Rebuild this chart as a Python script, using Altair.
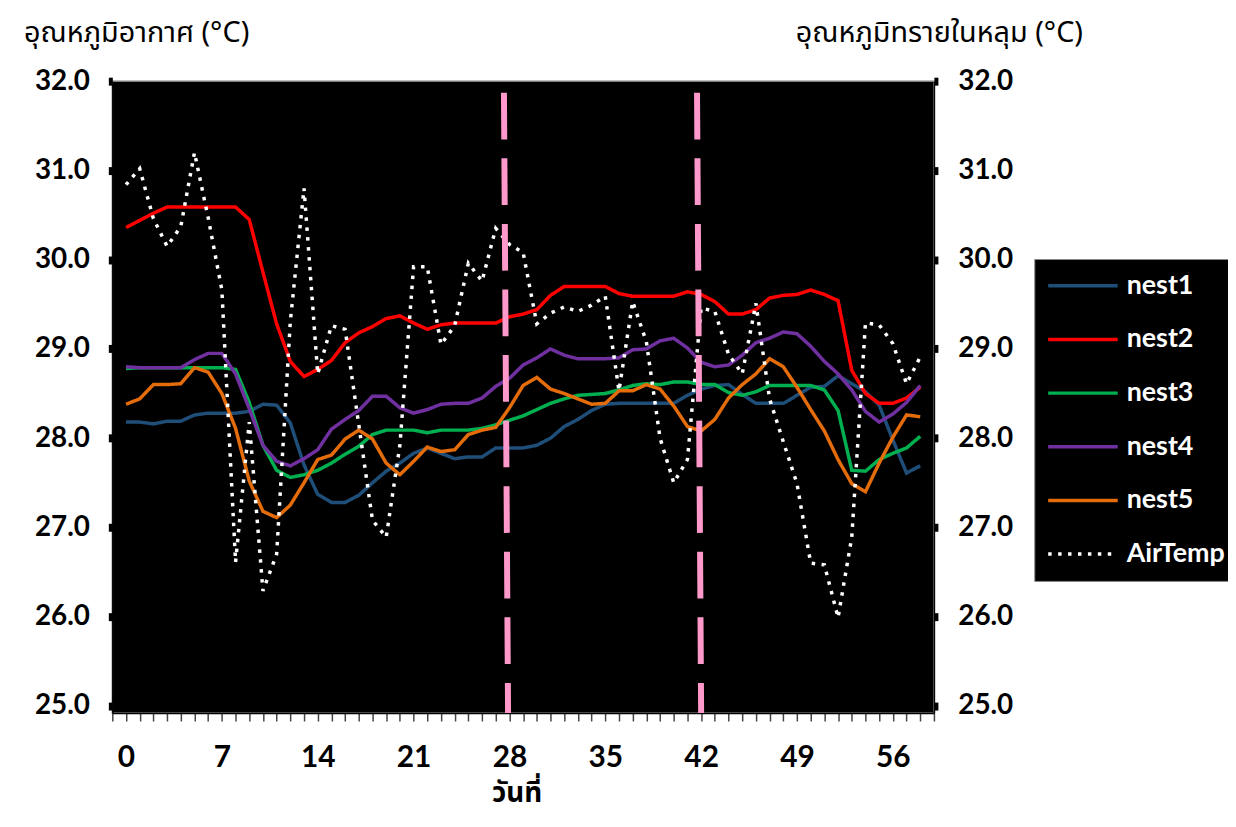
import altair as alt
import pandas as pd

days = list(range(59))

nest1 = [28.18, 28.18, 28.16, 28.19, 28.19, 28.26, 28.28, 28.28, 28.28, 28.30,
         28.38, 28.37, 28.17, 27.70, 27.37, 27.28, 27.28, 27.36, 27.50, 27.63,
         27.72, 27.83, 27.89, 27.83, 27.77, 27.79, 27.79, 27.89, 27.89, 27.89,
         27.92, 28.00, 28.13, 28.21, 28.31, 28.38, 28.39, 28.39, 28.39, 28.39,
         28.39, 28.48, 28.55, 28.59, 28.60, 28.49, 28.39, 28.39, 28.39, 28.48,
         28.57, 28.58, 28.70, 28.61, 28.52, 28.37, 27.98, 27.61, 27.69]
nest2 = [30.36, 30.44, 30.52, 30.59, 30.59, 30.59, 30.59, 30.59, 30.59, 30.45,
         29.86, 29.28, 28.86, 28.69, 28.77, 28.87, 29.07, 29.18, 29.25, 29.34,
         29.37, 29.29, 29.22, 29.27, 29.29, 29.29, 29.29, 29.29, 29.36, 29.39,
         29.44, 29.60, 29.70, 29.70, 29.70, 29.70, 29.62, 29.59, 29.59, 29.59,
         29.59, 29.64, 29.61, 29.53, 29.39, 29.39, 29.44, 29.57, 29.60, 29.61,
         29.66, 29.61, 29.54, 28.76, 28.50, 28.39, 28.39, 28.45, 28.57]
nest3 = [28.78, 28.79, 28.79, 28.79, 28.79, 28.79, 28.79, 28.79, 28.77, 28.40,
         27.92, 27.64, 27.56, 27.59, 27.64, 27.72, 27.82, 27.91, 28.04, 28.09,
         28.09, 28.09, 28.06, 28.09, 28.09, 28.09, 28.11, 28.15, 28.20, 28.25,
         28.32, 28.39, 28.44, 28.48, 28.49, 28.50, 28.54, 28.59, 28.61, 28.60,
         28.63, 28.63, 28.60, 28.60, 28.51, 28.48, 28.52, 28.59, 28.59, 28.59,
         28.59, 28.54, 28.31, 27.64, 27.63, 27.76, 27.83, 27.89, 28.02]
nest4 = [28.80, 28.79, 28.79, 28.79, 28.79, 28.88, 28.95, 28.95, 28.72, 28.33,
         27.92, 27.74, 27.69, 27.77, 27.87, 28.10, 28.21, 28.31, 28.47, 28.47,
         28.34, 28.28, 28.32, 28.38, 28.39, 28.39, 28.45, 28.58, 28.67, 28.82,
         28.90, 29.00, 28.93, 28.89, 28.89, 28.89, 28.90, 28.99, 29.00, 29.09,
         29.12, 29.01, 28.85, 28.80, 28.82, 28.93, 29.07, 29.12, 29.19, 29.17,
         29.03, 28.86, 28.72, 28.54, 28.30, 28.18, 28.27, 28.40, 28.59]
nest5 = [28.38, 28.44, 28.60, 28.60, 28.61, 28.79, 28.74, 28.50, 28.11, 27.52,
         27.18, 27.11, 27.25, 27.50, 27.76, 27.81, 27.99, 28.09, 27.99, 27.72,
         27.59, 27.74, 27.90, 27.85, 27.87, 28.04, 28.09, 28.12, 28.34, 28.59,
         28.68, 28.55, 28.50, 28.44, 28.38, 28.39, 28.53, 28.53, 28.60, 28.55,
         28.36, 28.13, 28.08, 28.21, 28.45, 28.60, 28.72, 28.89, 28.80, 28.57,
         28.32, 28.08, 27.76, 27.49, 27.40, 27.72, 28.01, 28.26, 28.24]
air_temp = [30.84, 31.02, 30.46, 30.15, 30.37, 31.20, 30.47, 29.66, 26.61, 28.18,
            26.29, 26.70, 29.31, 30.80, 28.72, 29.26, 29.22, 28.15, 27.08, 26.89,
            27.92, 29.92, 29.92, 29.05, 29.26, 29.96, 29.76, 30.35, 30.17, 30.08,
            29.28, 29.40, 29.47, 29.42, 29.49, 29.59, 28.53, 29.53, 29.08, 28.00,
            27.50, 27.76, 29.46, 29.42, 28.94, 28.72, 29.51, 28.44, 27.96, 27.49,
            26.60, 26.58, 25.99, 26.89, 29.29, 29.27, 29.06, 28.61, 28.91]

series_names = ["nest1", "nest2", "nest3", "nest4", "nest5", "AirTemp"]
series_colors = ["#1F4E79", "#FF0000", "#00B050", "#7030A0", "#E46C0A", "#FFFFFF"]
series_dashes = [[1, 0], [1, 0], [1, 0], [1, 0], [1, 0], [3.5, 6.5]]

# dashed marker lines (slightly slanted in the original): top x, bottom x
marker_top_day = [27.6, 41.7]
marker_bottom_day = [27.9, 42.0]
marker_top_temp = 31.87

y_ticks = [25, 26, 27, 28, 29, 30, 31, 32]
x_ticks = list(range(-1, 60))
y_domain = [24.92, 32.0]
x_domain = [-1, 59]

rows = []
for name, vals in zip(series_names[:5], [nest1, nest2, nest3, nest4, nest5]):
    for d, v in zip(days, vals):
        rows.append({"day": d, "temp": v, "series": name})
nest_df = pd.DataFrame(rows)
air_df = pd.DataFrame({"day": days, "temp": air_temp, "series": ["AirTemp"] * len(days)})
marker_df = pd.DataFrame({
    "day": marker_top_day,
    "day2": marker_bottom_day,
    "top": [marker_top_temp] * len(marker_top_day),
    "bottom": [y_domain[0]] * len(marker_top_day),
})

THAI = "Noto Sans Thai, Tahoma, Loma, Garuda, Noto Sans, sans-serif"
LAB = "Lato"

xscale = alt.Scale(domain=x_domain, nice=False, zero=False)
yscale = alt.Scale(domain=y_domain, nice=False, zero=False)

x_axis = alt.Axis(
    values=x_ticks,
    labelExpr="datum.value >= 0 && datum.value % 7 == 0 ? datum.value : ''",
    title="วันที่", titleFont=THAI, titleFontSize=28, titleFontWeight="bold",
    titleColor="black", titleX=407, titleY=89, titleAlign="center",
    titleBaseline="alphabetic",
    labelFont=LAB, labelFontSize=30, labelFontWeight="bold", labelColor="black",
    labelPadding=22, labelOverlap=False, labelFlush=False,
    tickSize=8, tickWidth=1.5, tickColor="#444444",
    domainColor="black", domainWidth=1.5, grid=False,
)

def y_axis(orient, title, title_x, pad):
    return alt.Axis(
        orient=orient, values=y_ticks, format=".1f",
        title=title, titleAngle=0, titleAlign="center", titleX=title_x, titleY=-40,
        titleBaseline="alphabetic", titleFont=THAI, titleFontSize=29,
        titleFontWeight="normal", titleColor="black",
        labelFont=LAB, labelFontSize=28, labelFontWeight="bold", labelColor="black",
        labelPadding=pad, tickSize=4, tickWidth=8, tickColor="black",
        domainColor="black", domainWidth=1.5, grid=False,
    )

legend = alt.Legend(
    title=None, orient="none", legendX=928, legendY=179,
    symbolType="stroke", symbolSize=4900, symbolStrokeWidth=3.5,
    labelFont=LAB, labelFontSize=27, labelFontWeight="bold", labelColor="white",
    labelOffset=7, fillColor="black", strokeColor="#888888", padding=12,
    clipHeight=30, rowPadding=24,
)

color = alt.Color("series:N", scale=alt.Scale(domain=series_names, range=series_colors),
                  legend=legend)
dash = alt.StrokeDash("series:N", scale=alt.Scale(domain=series_names, range=series_dashes),
                      legend=legend)

X = alt.X("day:Q", scale=xscale, axis=x_axis)

nests = alt.Chart(nest_df).mark_line(strokeWidth=3.5).encode(
    x=X,
    y=alt.Y("temp:Q", scale=yscale, axis=None),
    color=color, strokeDash=dash, detail="series:N",
)

air = alt.Chart(air_df).mark_line(strokeWidth=3.5).encode(
    x=X,
    y=alt.Y("temp:Q", scale=yscale, axis=y_axis("left", "อุณหภูมิอากาศ (°C)", 24, 19)),
    color=color, strokeDash=dash,
)

markers = alt.Chart(marker_df).mark_rule(
    color="#FF99CC", strokeWidth=6, strokeDash=[47, 19]
).encode(
    x=X,
    x2="day2:Q",
    y=alt.Y("top:Q", scale=yscale, axis=y_axis("right", "อุณหภูมิทรายในหลุม (°C)", 5, 20)),
    y2="bottom:Q",
)

chart = alt.layer(nests, air, markers).resolve_scale(y="independent").properties(
    width=827, height=636,
    autosize=alt.AutoSizeParams(type="none"),
    padding={"left": 105, "top": 71, "right": 296, "bottom": 103},
    background="white",
).configure_view(fill="black", stroke="#808080", strokeWidth=1.5)

chart.save("out.html", embed_options={"renderer": "svg", "actions": False})
